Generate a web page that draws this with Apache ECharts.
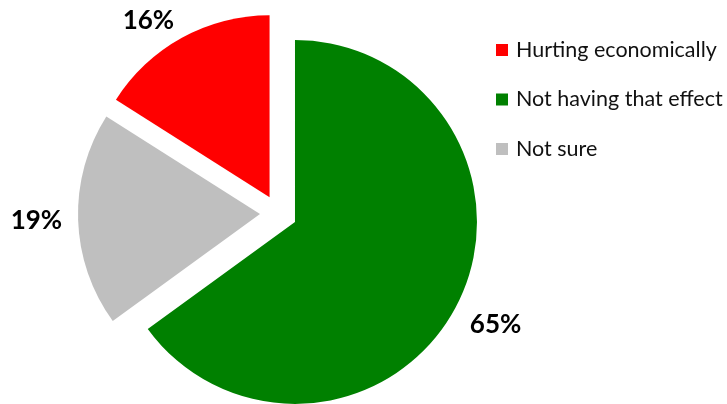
<!DOCTYPE html>
<html>
<head>
<meta charset="utf-8">
<script src="https://cdn.jsdelivr.net/npm/echarts@6/dist/echarts.min.js"></script>
<style>
  html, body { margin: 0; padding: 0; background: #fff; }
  #chart { width: 727px; height: 404px; }
</style>
</head>
<body>
<div id="chart"></div>
<script>
// Share of responses, drawn clockwise from 12 o'clock
const categories = ['Not having that effect', 'Not sure', 'Hurting economically'];
const shares = [65, 19, 16];
const colors = ['#008000', '#BFBFBF', '#FF0000'];
const legendOrder = ['Hurting economically', 'Not having that effect', 'Not sure'];

const chart = echarts.init(document.getElementById('chart'));

const pieData = categories.map((name, i) => ({
  name: name,
  value: shares[i],
  selected: true,
  itemStyle: { color: colors[i] }
}));

// small nudges for the outside percentage labels, by slice
const labelNudge = {
  0: { dx: -3, dy: 15 },
  1: { dx: 1, dy: 0 },
  2: { dx: 3, dy: -7 }
};

chart.setOption({
  animation: false,
  legend: {
    data: legendOrder,
    orient: 'vertical',
    left: 496,
    top: 39,
    padding: 0,
    icon: 'rect',
    itemWidth: 12,
    itemHeight: 12,
    itemGap: 27.5,
    selectedMode: false,
    textStyle: {
      fontFamily: 'Lato',
      fontSize: 21.5,
      color: '#111',
      lineHeight: 20,
      padding: [0, 0, 0, 3]
    }
  },
  series: [{
    type: 'pie',
    center: [278.5, 213.5],
    radius: [0, 182],
    startAngle: 90,
    clockwise: true,
    selectedMode: 'multiple',
    selectedOffset: 18.5,
    select: { itemStyle: { borderWidth: 0 } },
    emphasis: { disabled: true },
    data: pieData,
    label: {
      show: true,
      position: 'outside',
      formatter: '{c}%',
      fontFamily: 'Lato',
      fontWeight: 'bold',
      fontSize: 26,
      color: '#000'
    },
    labelLine: { show: false, length: 12, length2: 0 },
    labelLayout: function (params) {
      return labelNudge[params.dataIndex] || {};
    }
  }]
});
</script>
</body>
</html>
